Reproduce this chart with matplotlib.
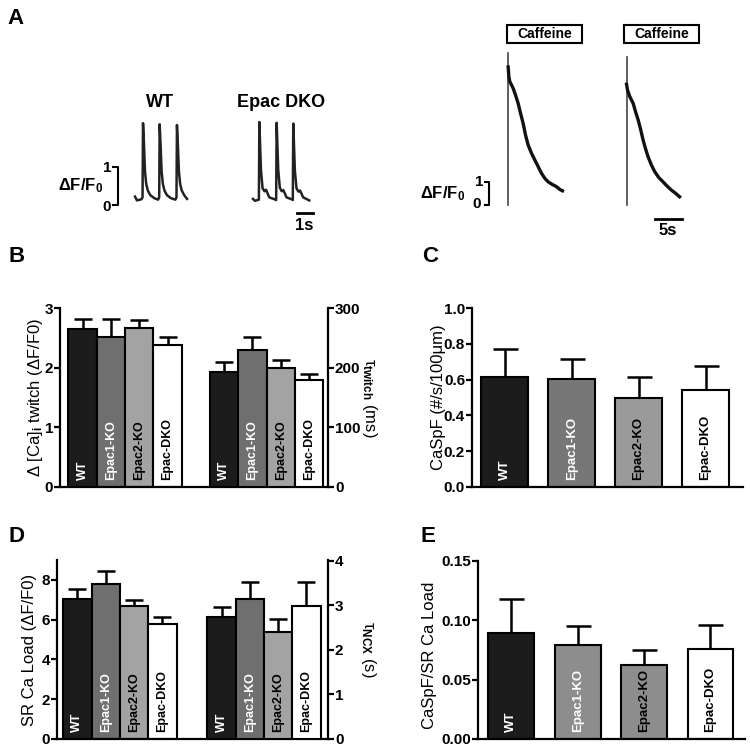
import numpy as np
import matplotlib.pyplot as plt
from matplotlib.patches import Rectangle

plt.rcParams['font.family'] = ['Liberation Sans', 'DejaVu Sans']
plt.rcParams['font.weight'] = 'bold'
plt.rcParams['mathtext.fontset'] = 'custom'
plt.rcParams['mathtext.rm'] = 'Liberation Sans:bold'
plt.rcParams['mathtext.default'] = 'rm'

# ---- data ----
groups = ['WT', 'Epac1-KO', 'Epac2-KO', 'Epac-DKO']

# A: twitch traces (time s, dF/F0)
wt_t = [0.00, 0.12, 0.40, 0.47, 0.50, 0.56, 0.62, 0.70, 0.80, 0.95, 1.20, 1.44, 1.51, 1.54, 1.60,
        1.66, 1.74, 1.84, 1.99, 2.24, 2.52, 2.59, 2.62, 2.68, 2.74, 2.82, 2.92, 3.07, 3.25]
wt_f = [0.22, 0.12, 0.15, 0.20, 2.15, 1.60, 0.90, 0.55, 0.38, 0.26, 0.18, 0.14, 0.20, 2.12, 1.55,
        0.90, 0.55, 0.38, 0.26, 0.18, 0.14, 0.20, 2.10, 1.55, 0.90, 0.55, 0.38, 0.26, 0.16]
dko_t = [0.00, 0.12, 0.37, 0.40, 0.50, 0.60, 0.72, 0.82, 1.02, 1.35, 1.45, 1.48, 1.58, 1.68, 1.80,
         1.90, 2.10, 2.42, 2.49, 2.52, 2.62, 2.72, 2.84, 2.94, 3.14, 3.52]
dko_f = [0.16, 0.11, 0.14, 2.18, 0.92, 0.44, 0.36, 0.40, 0.20, 0.15, 0.13, 2.16, 0.92, 0.45, 0.36,
         0.39, 0.20, 0.15, 0.13, 2.14, 0.90, 0.44, 0.35, 0.38, 0.20, 0.12]

# A: caffeine transients (time s, dF/F0)
caf1_t = [0.13, 0.31, 0.62, 0.93, 1.36, 1.85, 2.29, 2.78, 3.22, 3.70, 4.33, 4.94, 5.56, 6.18,
          6.80, 7.41, 8.15, 8.96, 9.57, 10.07]
caf1_f = [5.58, 5.36, 5.22, 5.07, 4.78, 4.42, 3.99, 3.55, 3.04, 2.61, 2.25, 1.96, 1.67, 1.38,
          1.16, 1.01, 0.90, 0.80, 0.68, 0.62]
caf1_top = 6.6
caf2_t = [0.18, 0.61, 1.23, 1.67, 2.16, 2.65, 3.08, 3.52, 4.01, 4.63, 5.25, 5.99, 6.79, 7.53,
          8.35, 9.14, 9.88]
caf2_f = [5.00, 4.71, 4.42, 4.06, 3.70, 3.26, 2.83, 2.46, 2.10, 1.74, 1.45, 1.20, 1.01, 0.83,
          0.65, 0.51, 0.36]
caf2_top = 6.45

# B: twitch amplitude and tau
b_amp = [2.65, 2.52, 2.66, 2.38]
b_amp_sem = [0.17, 0.30, 0.14, 0.13]
b_tau = [193, 230, 200, 180]
b_tau_sem = [17, 21, 13, 10]

# C: spark frequency
c_spf = [0.613, 0.602, 0.499, 0.544]
c_spf_sem = [0.159, 0.112, 0.118, 0.133]

# D: SR Ca load and tau NCX
d_load = [7.05, 7.78, 6.68, 5.77]
d_load_sem = [0.48, 0.69, 0.30, 0.34]
d_tau = [2.75, 3.15, 2.40, 2.99]
d_tau_sem = [0.22, 0.38, 0.29, 0.54]

# E: spark frequency / SR load
e_ratio = [0.089, 0.079, 0.0624, 0.0758]
e_ratio_sem = [0.029, 0.016, 0.0129, 0.0199]

W, H = 750, 751
fig = plt.figure(figsize=(7.5, 7.51), dpi=100)


def px_axes(x0, y0, x1, y1):
    return fig.add_axes([x0 / W, 1 - y1 / H, (x1 - x0) / W, (y1 - y0) / H])


def letter(x, y, s):
    fig.text(x / W, 1 - y / H, s, fontsize=16, ha='center', va='center')


# ---------------- panel A ----------------
ax_wt = px_axes(55, 95, 200, 232)
ax_dko = px_axes(240, 95, 320, 232)
for a in (ax_wt, ax_dko):
    a.set_ylim(-0.71, 2.89)
    a.axis('off')
ax_wt.set_xlim(-5.0, 4.06)
ax_dko.set_xlim(-0.81, 4.19)
ax_wt.plot(wt_t, wt_f, color='#222222', lw=1.8)
ax_dko.plot(dko_t, dko_f, color='#222222', lw=1.8)
ax_wt.text(1.56, 2.68, 'WT', fontsize=13, ha='center', va='center')
ax_dko.text(1.75, 2.68, 'Epac DKO', fontsize=13, ha='center', va='center')
ax_wt.plot([-1.4, -1.06, -1.06, -1.4], [1, 1, 0, 0], color='k', lw=1.5)
ax_wt.text(-1.75, 0.97, '1', fontsize=11, ha='center', va='center')
ax_wt.text(-1.75, -0.05, '0', fontsize=11, ha='center', va='center')
ax_wt.text(-3.4, 0.5, 'ΔF/F$_0$', fontsize=12, ha='center', va='center')
ax_dko.plot([2.75, 3.75], [-0.21, -0.21], color='k', lw=2)
ax_dko.text(3.2, -0.55, '1s', fontsize=12, ha='center', va='center')

ax_c1 = px_axes(410, 20, 595, 235)
ax_c2 = px_axes(600, 20, 720, 235)
for a in (ax_c1, ax_c2):
    a.set_ylim(-1.3, 8.04)
    a.axis('off')
ax_c1.set_xlim(-18.2, 16.1)
ax_c2.set_xlim(-4.94, 17.4)
ax_c1.plot([0, 0], [0, caf1_top], color='#444444', lw=1.2)
ax_c1.plot([0] + caf1_t, [caf1_top - 0.6] + caf1_f, color='#111111', lw=2.4)
ax_c2.plot([0, 0], [0, caf2_top], color='#444444', lw=1.2)
ax_c2.plot([0] + caf2_t, [caf2_top - 1.2] + caf2_f, color='#111111', lw=2.4)
for a, x0, wd in ((ax_c1, -0.24, 13.9), (ax_c2, -0.5, 14.07)):
    a.add_patch(Rectangle((x0, 7.04), wd, 0.79, facecolor='white', edgecolor='k', lw=1.5))
    a.text(x0 + wd / 2, 7.43, 'Caffeine', fontsize=10, ha='center', va='center')
ax_c1.plot([-4.3, -3.57, -3.57, -4.3], [1, 1, 0, 0], color='k', lw=1.5)
ax_c1.text(-5.4, 1.0, '1', fontsize=11, ha='center', va='center')
ax_c1.text(-5.8, 0.05, '0', fontsize=11, ha='center', va='center')
ax_c1.text(-12.2, 0.5, 'ΔF/F$_0$', fontsize=12, ha='center', va='center')
ax_c2.plot([5.24, 10.24], [-0.61, -0.61], color='k', lw=2)
ax_c2.text(7.65, -1.1, '5s', fontsize=12, ha='center', va='center')

letter(15, 18, 'A')

# ---------------- bar helpers ----------------
label_colors = ['white', 'white', 'black', 'black']


def style(a, spines):
    for s in ['top', 'right', 'left', 'bottom']:
        a.spines[s].set_visible(s in spines)
        a.spines[s].set_linewidth(1.6)
    a.tick_params(axis='y', direction='out', length=4, width=1.6, labelsize=11, pad=1)
    a.tick_params(axis='x', length=0, labelbottom=False)


def bars(a, pos, vals, sems, colors, width, cap, fs):
    a.bar(pos, vals, width=width, color=colors, edgecolor='black', linewidth=1.5, zorder=2)
    a.errorbar(pos, vals, yerr=[np.zeros(len(vals)), sems], fmt='none', ecolor='black',
               elinewidth=1.8, capsize=cap, capthick=1.8, zorder=1, clip_on=False)
    for p, g, c in zip(pos, groups, label_colors):
        a.annotate(g, (p, 0), xytext=(0, 5), textcoords='offset points', rotation=90,
                   ha='center', va='bottom', fontsize=fs, color=c, zorder=3)


# ---------------- panel B ----------------
cols_bd = ['#1c1c1c', '#6f6f6f', '#a3a3a3', 'white']
axB = px_axes(60, 308, 328, 487)
axB2 = axB.twinx()
axB.set_xlim(-0.8, 8.67)
axB.set_ylim(0, 3)
axB2.set_ylim(0, 300)
axB.set_yticks([0, 1, 2, 3])
axB2.set_yticks([0, 100, 200, 300])
style(axB, ['left', 'bottom'])
style(axB2, ['right'])
bars(axB, [0, 1, 2, 3], b_amp, b_amp_sem, cols_bd, 1.0, 6.5, 9)
bars(axB2, [5, 6, 7, 8], b_tau, b_tau_sem, cols_bd, 1.0, 6.5, 9)
axB.set_ylabel('Δ [Ca]$_i$ twitch (ΔF/F0)', fontsize=12, ha='center', va='center')
axB.yaxis.set_label_coords(-0.093, 0.5)
axB2.set_ylabel('τ$_{twitch}$ (ms)', fontsize=12, rotation=270, ha='center', va='center')
axB2.yaxis.set_label_coords(1.153, 0.5)
letter(17, 257, 'B')

# ---------------- panel C ----------------
axC = px_axes(472, 308, 743, 487)
axC.set_xlim(-0.49, 3.56)
axC.set_ylim(0, 1.0)
axC.set_yticks(np.arange(0, 1.01, 0.2))
axC.set_yticklabels(['0.0', '0.2', '0.4', '0.6', '0.8', '1.0'])
style(axC, ['left', 'bottom'])
bars(axC, [0, 1, 2, 3], c_spf, c_spf_sem, ['#1c1c1c', '#777777', '#9a9a9a', 'white'], 0.7, 9, 9.5)
axC.set_ylabel('CaSpF (#/s/100μm)', fontsize=12, ha='center', va='center')
axC.yaxis.set_label_coords(-0.125, 0.5)
letter(430, 257, 'C')

# ---------------- panel D ----------------
axD = px_axes(57, 560, 328, 739)
axD2 = axD.twinx()
axD.set_xlim(-0.72, 8.85)
axD.set_ylim(0, 9)
axD2.set_ylim(0, 4.02)
axD.set_yticks([0, 2, 4, 6, 8])
axD2.set_yticks([0, 1, 2, 3, 4])
style(axD, ['left', 'bottom'])
style(axD2, ['right'])
bars(axD, [0, 1, 2, 3], d_load, d_load_sem, cols_bd, 1.0, 6.5, 9)
bars(axD2, [5.09, 6.09, 7.09, 8.09], d_tau, d_tau_sem, cols_bd, 1.0, 6.5, 9)
axD.set_ylabel('SR Ca Load (ΔF/F0)', fontsize=12, ha='center', va='center')
axD.yaxis.set_label_coords(-0.101, 0.5)
axD2.set_ylabel('τ$_{NCX}$ (s)', fontsize=12, rotation=270, ha='center', va='center')
axD2.yaxis.set_label_coords(1.148, 0.5)
letter(16, 537, 'D')

# ---------------- panel E ----------------
axE = px_axes(478, 561, 745, 739)
axE.set_xlim(-0.5, 3.52)
axE.set_ylim(0, 0.15)
axE.set_yticks([0, 0.05, 0.10, 0.15])
axE.set_yticklabels(['0.00', '0.05', '0.10', '0.15'])
style(axE, ['left', 'bottom'])
bars(axE, [0, 1, 2, 3], e_ratio, e_ratio_sem, ['#1c1c1c', '#8d8d8d', '#8d8d8d', 'white'], 0.69, 9, 9.5)
axE.set_ylabel('CaSpF/SR Ca Load', fontsize=12, ha='center', va='center')
axE.yaxis.set_label_coords(-0.18, 0.47)
letter(428, 537, 'E')

fig.savefig('out.png', dpi=100)
